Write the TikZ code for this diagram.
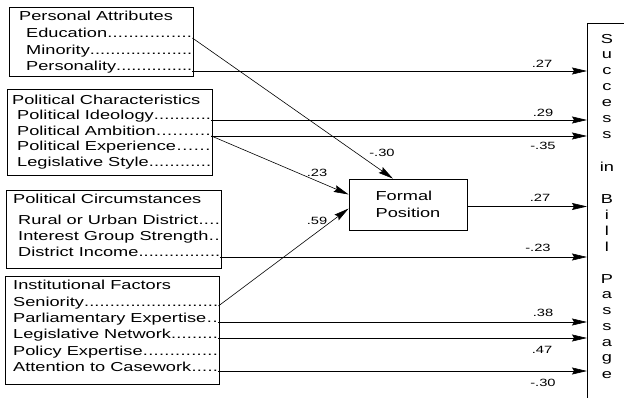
\documentclass[tikz,border=0pt]{standalone}
\usepackage{fontspec}
\setmainfont{Liberation Sans}[FakeStretch=1.4]
\usetikzlibrary{arrows.meta}

\tikzset{
  box/.style={draw, line width=0.7pt, anchor=north west, inner sep=0pt},
  item/.style={anchor=base west, inner sep=0pt, font=\fontsize{13}{16}\selectfont},
  fpbox/.style={draw, line width=0.7pt, minimum width=118pt, minimum height=51pt, align=left, font=\fontsize{13}{17}\selectfont},
  coef/.style={inner sep=0pt, font=\fontsize{10.5}{12}\selectfont},
  arr/.style={line width=0.6pt, -{Stealth[length=15pt,width=7pt,inset=2pt]}},
}
\newcommand{\lead}[2]{\hbox to #1pt{#2\xleaders\hbox{.}\hfill}}

\begin{document}
\begin{tikzpicture}[x=1pt,y=-1pt]
\useasboundingbox (0,0) rectangle (624,398);

% left boxes
\node[box, minimum width=184pt, minimum height=69pt] (pabox) at (9,7) {};
\node[item] (pa) at (19,21) {Personal Attributes};
\node[item] (edu) at (26,38) {\lead{166}{Education}};
\node[item] (mino) at (26,55) {\lead{166}{Minority}};
\node[item] (pers) at (26,71) {\lead{166}{Personality}};

\node[box, minimum width=205pt, minimum height=86pt] (pcbox) at (7,89) {};
\node[item] (pc) at (12,105) {Political Characteristics};
\node[item] (ideo) at (17,120) {\lead{194}{Political Ideology}};
\node[item] (amb) at (17,136) {\lead{194}{Political Ambition}};
\node[item] (exper) at (17,151) {\lead{194}{Political Experience}};
\node[item] (style) at (17,167) {\lead{194}{Legislative Style}};

\node[box, minimum width=215pt, minimum height=78pt] (circbox) at (6,190) {};
\node[item] (circ) at (13,204) {Political Circumstances};
\node[item] (rural) at (18,225) {\lead{202}{Rural or Urban District}};
\node[item] (igs) at (18,241) {\lead{202}{Interest Group Strength}};
\node[item] (inc) at (18,257) {\lead{202}{District Income}};

\node[box, minimum width=214pt, minimum height=108pt] (ifbox) at (5,276) {};
\node[item] (inst) at (13,289) {Institutional Factors};
\node[item] (sen) at (13,306) {\lead{205}{Seniority}};
\node[item] (parl) at (13,322) {\lead{205}{Parliamentary Expertise}};
\node[item] (net) at (13,338) {\lead{205}{Legislative Network}};
\node[item] (pol) at (13,355) {\lead{205}{Policy Expertise}};
\node[item] (att) at (13,371) {\lead{205}{Attention to Casework}};

\node[fpbox] (fp) at (408,204.5) {Formal\\Position};

% dependent variable
\coordinate (rb) at (587,23);
\draw[line width=0.7pt] (624,23) -- (rb) -- (587,398);
\foreach \c [count=\i] in {S,u,c,c,e,s,s,{},in,{},B,i,l,l,{},P,a,s,s,a,g,e}{
\node[inner sep=0pt, font=\fontsize{13}{16}\selectfont] (dv\i) at (607,{23+16*\i}) {\c};}

\draw[arr] (pers.base east) -- (pers.base east -| rb);
\draw[arr] (ideo.base east) -- (ideo.base east -| rb);
\draw[arr] (amb.base east) -- (amb.base east -| rb);
\draw[arr] (edu.base east) -- ([xshift=-15pt]fp.north);
\draw[arr] (amb.base east) -- ([yshift=10pt]fp.west);
\draw[arr] (sen.base east) -- ([yshift=-4pt]fp.west);
\draw[arr] ([yshift=-2pt]fp.east) -- ([yshift=-2pt]fp.east -| rb);
\draw[arr] (inc.base east) -- (inc.base east -| rb);
\draw[arr] (parl.base east) -- (parl.base east -| rb);
\draw[arr] (net.base east) -- (net.base east -| rb);
\draw[arr] (att.base east) -- (att.base east -| rb);

\node[coef] (c1) at (542,64) {.27};
\node[coef] (c2) at (543,113) {.29};
\node[coef] (c3) at (543,146) {-.35};
\node[coef] (c4) at (382,153) {-.30};
\node[coef] (c5) at (317,173) {.23};
\node[coef] (c6) at (317,221) {.59};
\node[coef] (c7) at (540,198) {.27};
\node[coef] (c8) at (538,248) {-.23};
\node[coef] (c9) at (543,313) {.38};
\node[coef] (c10) at (542,350) {.47};
\node[coef] (c11) at (543,383) {-.30};
\end{tikzpicture}
\end{document}
